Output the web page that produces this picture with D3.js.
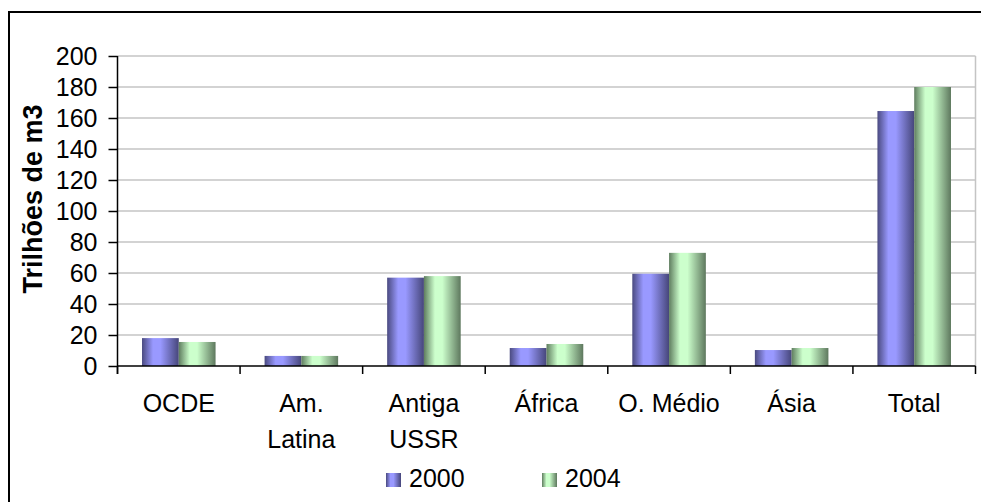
<!DOCTYPE html>
<html>
<head>
<meta charset="utf-8">
<script src="https://cdn.jsdelivr.net/npm/d3@7"></script>
<style>
  html, body { margin: 0; padding: 0; background: #fff; }
  svg { display: block; }
  text { font-family: "Liberation Sans", Arial, sans-serif; fill: #000; }
</style>
</head>
<body>
<svg id="chart" width="981" height="502"></svg>
<script>
const categories = ["OCDE", "Am.\nLatina", "Antiga\nUSSR", "África", "O. Médio", "Ásia", "Total"];
const seriesNames = ["2000", "2004"];
const values2000 = [18, 6.5, 57, 11.6, 59.5, 10.3, 164.5];
const values2004 = [15.5, 6.5, 58, 14.2, 73, 11.6, 180];
const yTicks = [0, 20, 40, 60, 80, 100, 120, 140, 160, 180, 200];
const yTitle = "Trilhões de m3";

const svg = d3.select("#chart");
const W = 981, H = 502;
const plot = { left: 117.5, right: 975.5, top: 56, bottom: 366 };

// outer frame
svg.append("rect").attr("x", 9).attr("y", 12).attr("width", W + 10).attr("height", H + 10)
  .attr("fill", "#fff").attr("stroke", "#000").attr("stroke-width", 2);

const defs = svg.append("defs");
function grad(id, dark, light, darkR) {
  const g = defs.append("linearGradient").attr("id", id)
    .attr("x1", "0").attr("x2", "1").attr("y1", "0").attr("y2", "0");
  [[0, dark], [0.3, light], [0.5, light], [1, darkR]].forEach(([o, c]) =>
    g.append("stop").attr("offset", o).attr("stop-color", c));
}
grad("g2000", "#4a4a80", "#9999ff", "#46467a");
grad("g2004", "#5f7d5f", "#ccffcc", "#5e785e");
const fills = ["url(#g2000)", "url(#g2004)"];

const x0 = d3.scaleBand().domain(d3.range(categories.length)).range([plot.left, plot.right]).padding(0);
const bw = x0.bandwidth();
const x1 = d3.scaleBand().domain(seriesNames).range([bw * 0.2, bw * 0.8]).padding(0);
const y = d3.scaleLinear().domain([0, 200]).range([plot.bottom, plot.top]);

// gridlines
svg.append("g").selectAll("line").data(yTicks.filter(d => d > 0)).join("line")
  .attr("x1", plot.left).attr("x2", plot.right)
  .attr("y1", d => y(d)).attr("y2", d => y(d))
  .attr("stroke", "#c4c4c4").attr("stroke-width", 1.5);
// right border of plot area
svg.append("line").attr("x1", plot.right).attr("x2", plot.right)
  .attr("y1", plot.top).attr("y2", plot.bottom)
  .attr("stroke", "#c4c4c4").attr("stroke-width", 1.5);

// bars
const data = categories.map((c, i) => ({ i, vals: [values2000[i], values2004[i]] }));
const groups = svg.append("g").selectAll("g").data(data).join("g")
  .attr("transform", d => `translate(${x0(d.i)},0)`);
groups.selectAll("rect").data(d => d.vals.map((v, k) => ({ v, k }))).join("rect")
  .attr("x", d => x1(seriesNames[d.k]))
  .attr("width", x1.bandwidth())
  .attr("y", d => y(d.v))
  .attr("height", d => y(0) - y(d.v))
  .attr("fill", d => fills[d.k]);

// y axis
const yAxis = svg.append("g").attr("transform", `translate(${plot.left},0)`)
  .call(d3.axisLeft(y).tickValues(yTicks).tickSize(9).tickPadding(11).tickSizeOuter(0));
yAxis.select(".domain").attr("stroke", "#000").attr("stroke-width", 1.5)
  .attr("d", `M0,${plot.top}V${plot.bottom + 8}`);
yAxis.selectAll(".tick line").attr("stroke", "#000").attr("stroke-width", 1.5);
yAxis.selectAll(".tick text").style("font-size", "25px").style("font-family", "'Liberation Sans', Arial, sans-serif")
  .attr("fill", "#000");

// x axis baseline
svg.append("line").attr("x1", plot.left).attr("x2", plot.right)
  .attr("y1", y(0)).attr("y2", y(0)).attr("stroke", "#000").attr("stroke-width", 1.5);
// category ticks at band boundaries
const bounds = d3.range(categories.length + 1).map(i => i < categories.length ? x0(i) : x0(categories.length - 1) + bw);
svg.append("g").selectAll("line").data(bounds).join("line")
  .attr("x1", d => d).attr("x2", d => d)
  .attr("y1", y(0)).attr("y2", y(0) + 8)
  .attr("stroke", "#000").attr("stroke-width", 1.5);

// category labels
const lab = svg.append("g").selectAll("text").data(categories).join("text")
  .attr("text-anchor", "middle")
  .attr("x", (d, i) => x0(i) + bw / 2)
  .attr("y", 412)
  .style("font-size", "25px");
lab.selectAll("tspan").data(d => d.split("\n")).join("tspan")
  .attr("x", function() { return d3.select(this.parentNode).attr("x"); })
  .attr("dy", (d, k) => k === 0 ? 0 : 36)
  .text(d => d);

// y title
svg.append("text")
  .attr("transform", `translate(42,199) rotate(-90)`)
  .attr("text-anchor", "middle")
  .style("font-size", "27px").style("font-weight", "bold")
  .text(yTitle);

// legend
const legendX = [386, 542];
const leg = svg.append("g").selectAll("g").data(seriesNames).join("g")
  .attr("transform", (d, i) => `translate(${legendX[i]},0)`);
leg.append("rect").attr("x", 0).attr("y", 473).attr("width", 15).attr("height", 14)
  .attr("fill", (d, i) => fills[i]);
leg.append("text").attr("x", 23).attr("y", 487).style("font-size", "25px").text(d => d);
</script>
</body>
</html>
